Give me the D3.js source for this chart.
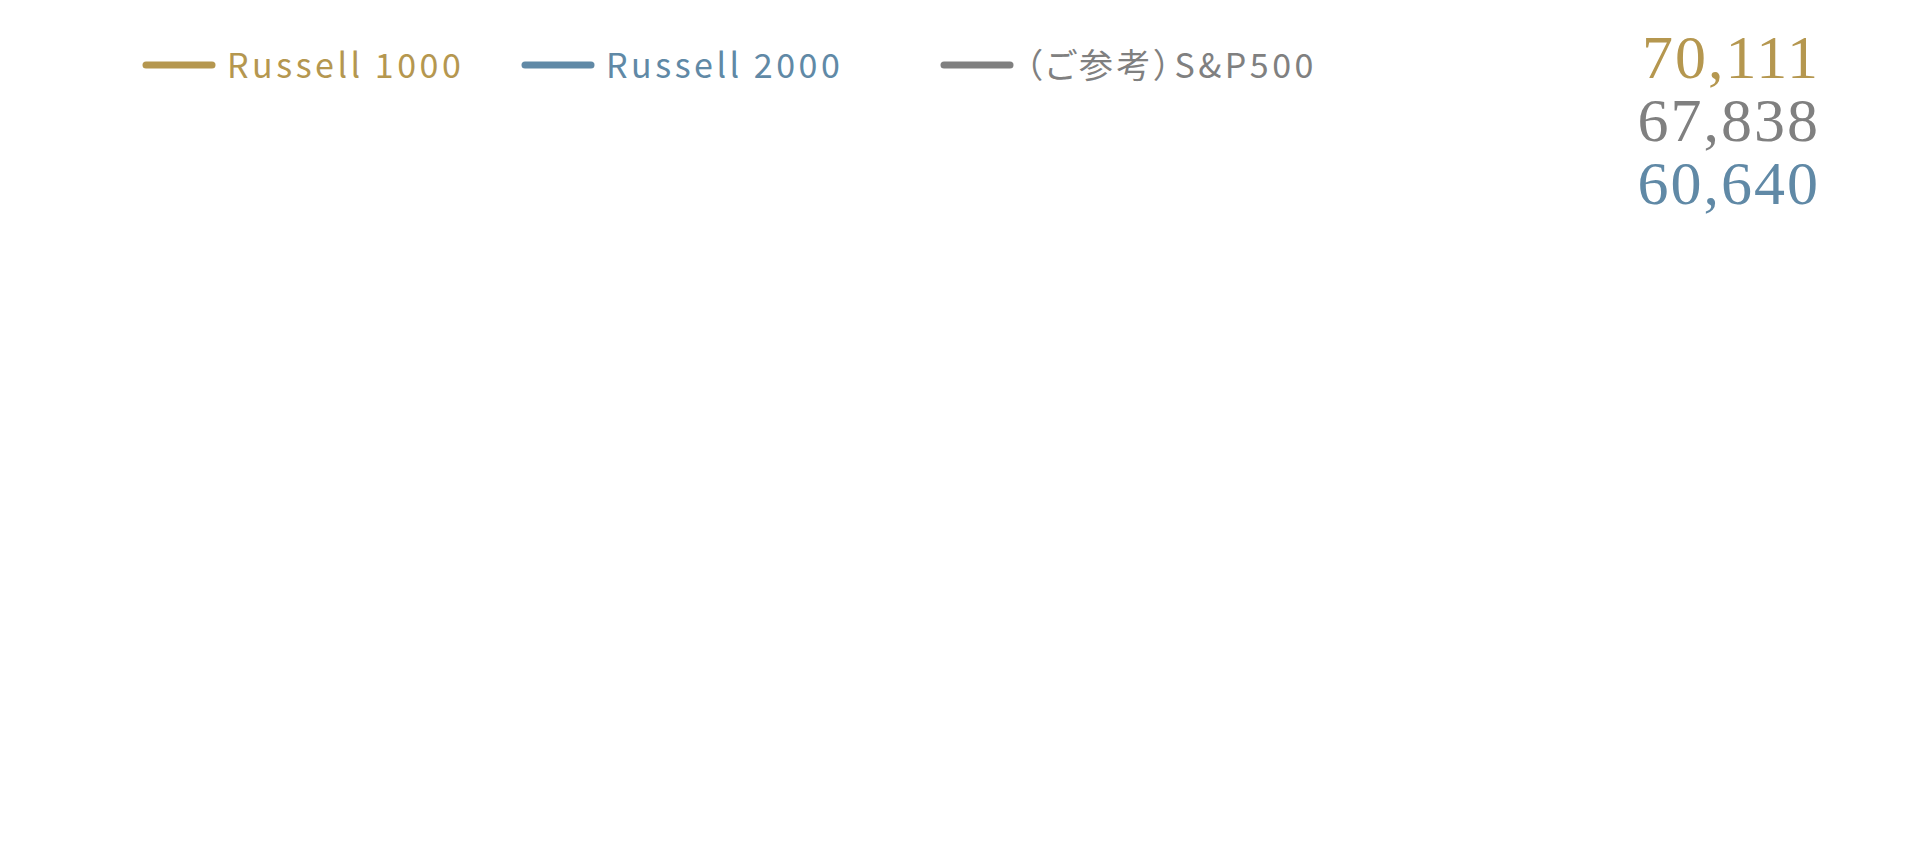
<!DOCTYPE html>
<meta charset="utf-8">
<script src="https://cdn.jsdelivr.net/npm/d3@7"></script>
<style>
body {margin: 0; background: #fff;}
svg {display: block;}
.legend text {font-family: "Noto Sans CJK JP", "Noto Sans", sans-serif; font-size: 34px; letter-spacing: 3.5px; font-feature-settings: "palt";}
.latest text {font-family: "Liberation Serif", serif; font-size: 62px; letter-spacing: 2px;}
</style>
<div id="vis"></div>
<script>
// series shown in the legend, and the latest value of each
var seriesNames = ["Russell 1000", "Russell 2000", "（ご参考）S&P500"];
var latestValues = [70111, 60640, 67838];

var width = 1916,
    height = 867;

var color = d3.scaleOrdinal()
    .domain(seriesNames)
    .range(["#b5974f", "#6089a6", "#808080"]);

// legend keys sit at uneven spots, as in the original
var legendX = d3.scaleOrdinal()
    .domain(seriesNames)
    .range([143, 522, 941]);

var svg = d3.select("#vis")
    .append("svg")
    .attr("width", width)
    .attr("height", height);

var legend = svg.append("g")
    .attr("class", "legend")
    .selectAll("g")
    .data(seriesNames)
    .enter().append("g")
    .attr("transform", function(d) { return "translate(" + legendX(d) + ",65)"; });

legend.append("line")
    .attr("x1", 3)
    .attr("x2", 69)
    .attr("stroke", color)
    .attr("stroke-width", 7)
    .attr("stroke-linecap", "round");

legend.append("text")
    .attr("x", 84)
    .attr("y", 13)
    .attr("fill", color)
    .text(function(d) { return d; });

// latest values, largest on top
var latest = seriesNames.map(function(d, i) { return {name: d, value: latestValues[i]}; })
    .sort(function(a, b) { return b.value - a.value; });

var y = d3.scaleBand()
    .domain(latest.map(function(d) { return d.name; }))
    .range([15, 204]);

svg.append("g")
    .attr("class", "latest")
    .selectAll("text")
    .data(latest)
    .enter().append("text")
    .attr("x", 1820)
    .attr("y", function(d) { return y(d.name) + y.bandwidth(); })
    .attr("text-anchor", "end")
    .attr("fill", function(d) { return color(d.name); })
    .text(function(d) { return d3.format(",")(d.value); });
</script>
